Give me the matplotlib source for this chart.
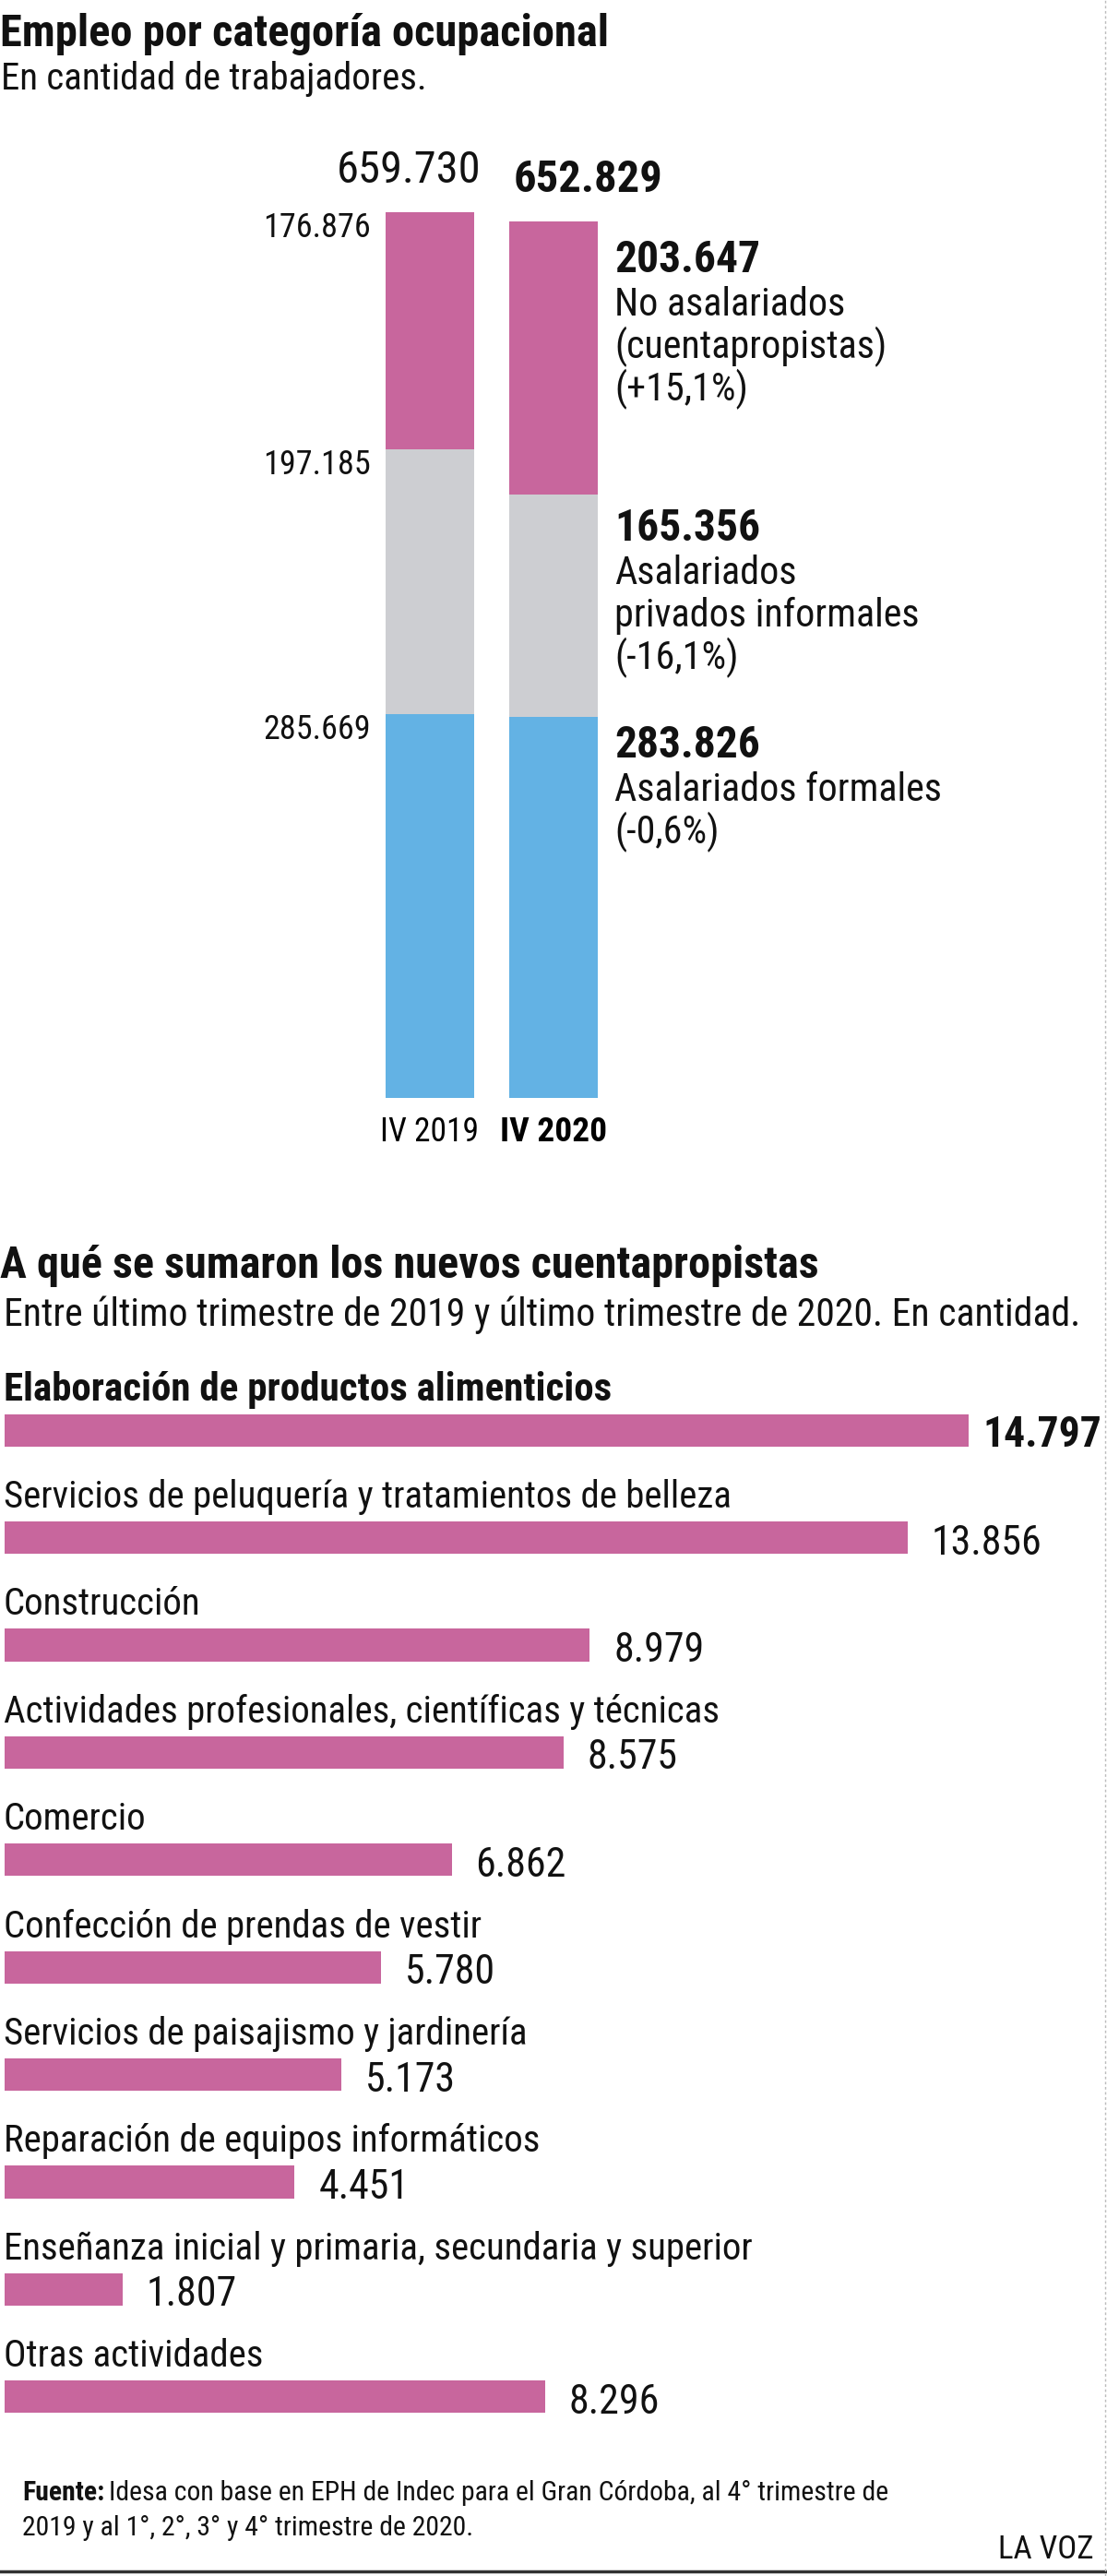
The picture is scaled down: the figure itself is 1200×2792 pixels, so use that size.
import matplotlib
matplotlib.use('Agg')
import matplotlib.pyplot as plt
from matplotlib import font_manager

# --- datos: empleo por categoria ocupacional ---
periodos = ['IV 2019', 'IV 2020']
asalariados_formales = [285669, 283826]
asalariados_informales = [197185, 165356]
no_asalariados = [176876, 203647]
total_empleo = [659730, 652829]
categorias = ['Asalariados formales', 'Asalariados\nprivados informales', 'No asalariados\n(cuentapropistas)']
variacion = ['(-0,6%)', '(-16,1%)', '(+15,1%)']

# --- datos: nuevos cuentapropistas por actividad ---
actividades = [
    'Elaboración de productos alimenticios',
    'Servicios de peluquería y tratamientos de belleza',
    'Construcción',
    'Actividades profesionales, científicas y técnicas',
    'Comercio',
    'Confección de prendas de vestir',
    'Servicios de paisajismo y jardinería',
    'Reparación de equipos informáticos',
    'Enseñanza inicial y primaria, secundaria y superior',
    'Otras actividades',
]
nuevos_cuentapropistas = [14797, 13856, 8979, 8575, 6862, 5780, 5173, 4451, 1807, 8296]

ROSA = '#C8669D'
GRIS = '#CDCED2'
CELESTE = '#63B2E4'
NEGRO = '#111111'

instaladas = {f.name for f in font_manager.fontManager.ttflist}
FUENTE = next(f for f in ['Roboto Condensed', 'Liberation Sans Narrow', 'DejaVu Sans'] if f in instaladas)
plt.rcParams['font.family'] = [FUENTE, 'DejaVu Sans']
plt.rcParams['text.color'] = NEGRO


def miles(v):
    return f'{v:,}'.replace(',', '.')


W, H = 1200, 2792
fig = plt.figure(figsize=(W / 100, H / 100), dpi=100)
ren = fig.canvas.get_renderer()


def caja(x0, y0, x1, y1):
    # caja en pixeles, y medido desde arriba
    return [x0 / W, 1 - y1 / H, (x1 - x0) / W, (y1 - y0) / H]


def ajustar(texto, ancho, otros=()):
    # escala la fuente para que el texto ocupe `ancho` pixeles
    w = texto.get_window_extent(renderer=ren).width
    nuevo = texto.get_fontsize() * ancho / w
    for t in (texto, *otros):
        t.set_fontsize(nuevo)


fondo = fig.add_axes([0, 0, 1, 1])
fondo.set_xlim(0, W)
fondo.set_ylim(H, 0)
fondo.axis('off')

# titulos
t = fondo.text(0, 50, 'Empleo por categoría ocupacional', fontsize=35, fontweight='black', va='baseline')
ajustar(t, 660)
t = fondo.text(1, 97, 'En cantidad de trabajadores.', fontsize=28, va='baseline')
ajustar(t, 461)
t = fondo.text(0, 1385, 'A qué se sumaron los nuevos cuentapropistas', fontsize=33, fontweight='black', va='baseline')
ajustar(t, 888)
t = fondo.text(4, 1437, 'Entre último trimestre de 2019 y último trimestre de 2020. En cantidad.', fontsize=27, va='baseline')
ajustar(t, 1163)

# --- barras apiladas ---
ax1 = fig.add_axes(caja(399, 230, 667, 1190))
ax1.patch.set_visible(False)
ancho = 96 / 134
segmentos = [asalariados_formales, asalariados_informales, no_asalariados]
colores = [CELESTE, GRIS, ROSA]
base = [0, 0]
topes = []
for vals, col in zip(segmentos, colores):
    ax1.bar(range(2), vals, width=ancho, bottom=base, color=col)
    base = [b + v for b, v in zip(base, vals)]
    topes.append(list(base))
ax1.set_xlim(-0.5, 1.5)
ax1.set_ylim(0, max(total_empleo))
for s in ax1.spines.values():
    s.set_visible(False)
ax1.set_yticks([])
ax1.set_xticks(range(2), periodos, fontsize=24.5)
ax1.tick_params(length=0, pad=14)
et19, et20 = ax1.get_xticklabels()
et20.set_fontweight('bold')
ajustar(et19, 107)
ajustar(et20, 116)

bajada_numero = [-44, -50, -55]
izq, num, desc = [], [], []
for k, vals in enumerate(segmentos):
    # valores 2019 a la izquierda
    izq.append(ax1.annotate(miles(vals[0]), xy=(-ancho / 2, topes[k][0]), xytext=(-16, -27),
                            textcoords='offset pixels', ha='right', va='baseline', fontsize=26))
    # valores 2020 y descripcion a la derecha
    num.append(ax1.annotate(miles(vals[1]), xy=(1 + ancho / 2, topes[k][1]), xytext=(18, bajada_numero[k]),
                            textcoords='offset pixels', ha='left', va='baseline', fontsize=35,
                            fontweight='bold'))
    lineas = categorias[k].split('\n') + [variacion[k]]
    for j, linea in enumerate(lineas):
        desc.append(ax1.annotate(linea, xy=(1 + ancho / 2, topes[k][1]),
                                 xytext=(18, bajada_numero[k] - 47 - 46 * j),
                                 textcoords='offset pixels', ha='left', va='baseline', fontsize=29))
ajustar(izq[2], 117, izq[:2])
ajustar(num[2], 158, num[:2])
ajustar(desc[3], 331, desc)  # 'privados informales'

t1 = ax1.annotate(miles(total_empleo[0]), xy=(ancho / 2, total_empleo[0]), xytext=(8, 32),
                  textcoords='offset pixels', ha='right', va='baseline', fontsize=33)
ajustar(t1, 157)
t2 = ax1.annotate(miles(total_empleo[1]), xy=(1 - ancho / 2, total_empleo[1]), xytext=(5, 32),
                  textcoords='offset pixels', ha='left', va='baseline', fontsize=36, fontweight='bold')
ajustar(t2, 162)

# --- barras horizontales ---
ax2 = fig.add_axes(caja(5, 1550 - 58, 1195, 2598 + 58))
ax2.patch.set_visible(False)
n = len(actividades)
alto = 35 / 116
ax2.barh(range(n), nuevos_cuentapropistas, height=alto, color=ROSA)
ax2.set_ylim(n - 0.5, -0.5)
ax2.set_xlim(0, max(nuevos_cuentapropistas) * 1190 / 1045)
ax2.axis('off')
nombres, valores = [], []
for i, (act, v) in enumerate(zip(actividades, nuevos_cuentapropistas)):
    destacado = i == 0
    peso = 'bold' if destacado else 'normal'
    nombres.append(ax2.annotate(act, xy=(0, i - alto / 2), xytext=(-1, 15), textcoords='offset pixels',
                                ha='left', va='baseline', fontsize=29, fontweight=peso))
    valores.append(ax2.annotate(miles(v), xy=(v, i), xytext=(15 if destacado else 26, -18),
                                textcoords='offset pixels', ha='left', va='baseline',
                                fontsize=29, fontweight=peso))
ajustar(nombres[0], 658)
ajustar(nombres[1], 790, nombres[2:])
ajustar(valores[0], 129)
ajustar(valores[2], 98, valores[1:])

# --- pie ---
linea2 = fondo.text(24, 2748, '2019 y al 1°, 2°, 3° y 4° trimestre de 2020.', fontsize=22, va='baseline')
fuente = fondo.text(24, 2710, 'Fuente:', fontsize=22, fontweight='bold', va='baseline')
linea1 = fondo.annotate('Idesa con base en EPH de Indec para el Gran Córdoba, al 4° trimestre de',
                        xy=(1, 0), xycoords=fuente, xytext=(5, 0), textcoords='offset pixels',
                        fontsize=22, va='bottom', ha='left')
ajustar(linea2, 490, (fuente, linea1))
voz = fondo.text(1186, 2773, 'LA VOZ', fontsize=25, va='baseline', ha='right')
ajustar(voz, 104)
fondo.axhline(2787, color='#333333', lw=2.5)
fondo.axvline(1198, color='#BBBBBB', lw=1, ls=(0, (2, 2)))

fig.savefig('out.png', dpi=100)
